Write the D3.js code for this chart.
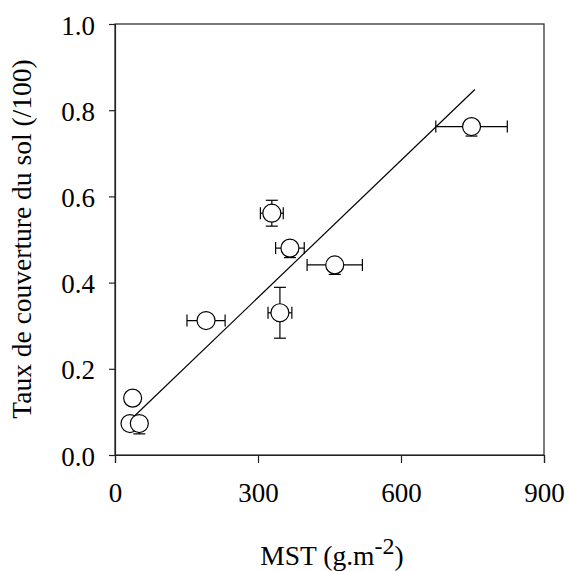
<!DOCTYPE html>
<html><head><meta charset="utf-8">
<script src="https://cdn.jsdelivr.net/npm/d3@7"></script>
<style>body{margin:0;background:#fff}</style>
</head><body><svg id="c" width="569" height="571"></svg>
<script>
const mstX   = [37, 31.5, 51, 191, 346, 329, 367, 461, 748];
const coverY = [0.132, 0.073, 0.073, 0.312, 0.330, 0.561, 0.480, 0.441, 0.762];
const xErr   = [0, 0, 0, 40, 25, 24, 30, 58, 75];
const yErrLo = [0, 0, 0.024, 0, 0.059, 0.03, 0.022, 0.022, 0.022];
const yErrHi = [0, 0, 0, 0, 0.059, 0.03, 0, 0, 0];
const fitX = [24.5, 755];
const fitY = [0.073, 0.848];
const xTicks = [0, 300, 600, 900];
const yTicks = [0.0, 0.2, 0.4, 0.6, 0.8, 1.0];

const svg = d3.select("#c");
const L = 115, R = 544, T = 24, B = 455;
const x = d3.scaleLinear().domain([0, 900]).range([L, R]);
const y = d3.scaleLinear().domain([0, 1]).range([B, T]);
const font = "'Liberation Serif', 'Times New Roman', serif";
const fs = 27;
const fsTitle = 27.5;

svg.append("rect").attr("x", L).attr("y", T).attr("width", R - L).attr("height", B - T)
  .attr("fill", "none").attr("stroke", "#222").attr("stroke-width", 1.2);

const xa = svg.append("g").attr("transform", `translate(0,${B})`)
  .call(d3.axisBottom(x).tickValues(xTicks).tickSize(8).tickPadding(20).tickFormat(d3.format("d")));
const ya = svg.append("g").attr("transform", `translate(${L},0)`)
  .call(d3.axisLeft(y).tickValues(yTicks).tickSize(6).tickPadding(14).tickFormat(d3.format(".1f")));
[xa, ya].forEach(a => {
  a.attr("font-family", font).attr("font-size", fs);
  a.select(".domain").attr("stroke", "#222").attr("stroke-width", 1.2);
  a.selectAll(".tick line").attr("stroke", "#222").attr("stroke-width", 1.2);
  a.selectAll("text").attr("font-family", font).attr("font-size", fs).attr("fill", "#000");
});
ya.selectAll("text").attr("dy", "0.37em");

svg.append("line").attr("x1", x(fitX[0])).attr("y1", y(fitY[0]))
  .attr("x2", x(fitX[1])).attr("y2", y(fitY[1]))
  .attr("stroke", "#000").attr("stroke-width", 1.2);

const g = svg.append("g").attr("stroke", "#000").attr("stroke-width", 1.2);
const cap = 6;
mstX.forEach((mx, i) => {
  const cx = x(mx), cy = y(coverY[i]);
  if (xErr[i] > 0) {
    const x1 = x(mx - xErr[i]), x2 = x(mx + xErr[i]);
    g.append("line").attr("x1", x1).attr("x2", x2).attr("y1", cy).attr("y2", cy);
    g.append("line").attr("x1", x1).attr("x2", x1).attr("y1", cy - cap).attr("y2", cy + cap);
    g.append("line").attr("x1", x2).attr("x2", x2).attr("y1", cy - cap).attr("y2", cy + cap);
  }
  if (yErrLo[i] > 0 || yErrHi[i] > 0) {
    const y1 = y(coverY[i] - yErrLo[i]), y2 = y(coverY[i] + yErrHi[i]);
    g.append("line").attr("x1", cx).attr("x2", cx).attr("y1", y1).attr("y2", y2);
    if (yErrLo[i] > 0) g.append("line").attr("x1", cx - cap).attr("x2", cx + cap).attr("y1", y1).attr("y2", y1);
    if (yErrHi[i] > 0) g.append("line").attr("x1", cx - cap).attr("x2", cx + cap).attr("y1", y2).attr("y2", y2);
  }
});
svg.append("g").selectAll("circle").data(mstX).join("circle")
  .attr("cx", d => x(d)).attr("cy", (d, i) => y(coverY[i])).attr("r", 9)
  .attr("fill", "#fff").attr("stroke", "#000").attr("stroke-width", 1.2);

const xt = svg.append("text").attr("x", 332).attr("y", 565).attr("text-anchor", "middle")
  .attr("font-family", font).attr("font-size", fsTitle).attr("fill", "#000");
xt.append("tspan").text("MST (g.m");
xt.append("tspan").attr("dy", -11).attr("font-size", 24).text("-2");
xt.append("tspan").attr("dy", 11).text(")");

svg.append("text").attr("transform", "translate(31,239) rotate(-90)").attr("text-anchor", "middle")
  .attr("font-family", font).attr("font-size", fsTitle).attr("fill", "#000")
  .text("Taux de couverture du sol (/100)");
</script></body></html>
